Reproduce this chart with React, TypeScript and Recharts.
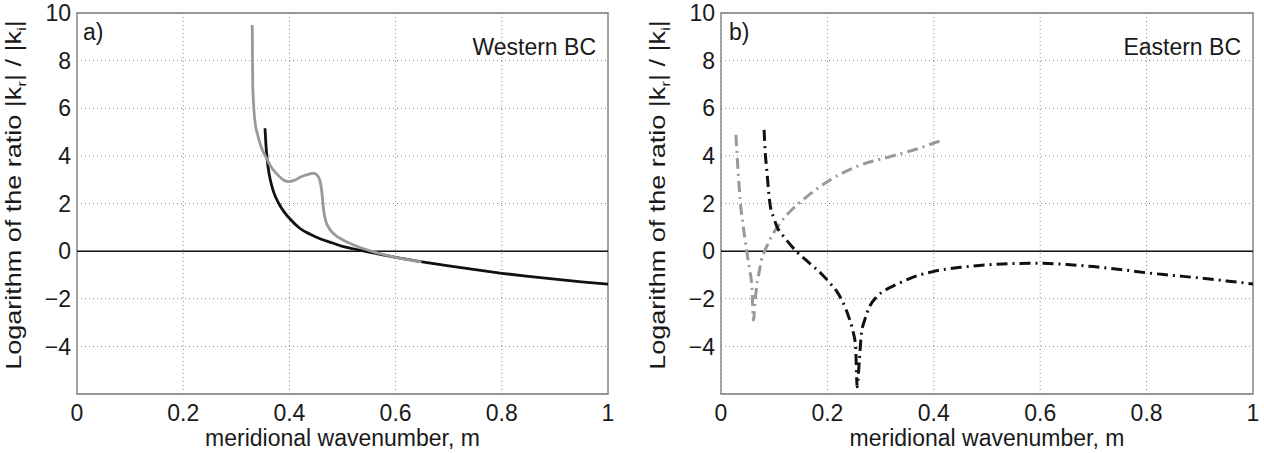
import React from 'react';
import {
  LineChart,
  Line,
  XAxis,
  YAxis,
  CartesianGrid,
  ReferenceLine,
  ReferenceArea,
  Label,
} from 'recharts';

// axis ticks
const xTicks = [0, 0.2, 0.4, 0.6, 0.8, 1];
const yTicks = [-4, -2, 0, 2, 4, 6, 8, 10];

// panel a) Western BC
const westGrayX = [0.330, 0.3305, 0.331, 0.333, 0.336, 0.34, 0.345, 0.35, 0.357, 0.365, 0.376, 0.388, 0.398, 0.41, 0.42, 0.435, 0.445, 0.452, 0.457, 0.461, 0.464, 0.468, 0.475, 0.485, 0.5, 0.52, 0.54, 0.56, 0.6, 0.649];
const westGrayY = [9.5, 8.0, 7.0, 6.0, 5.3, 4.9, 4.5, 4.2, 3.9, 3.55, 3.25, 3.0, 2.92, 2.98, 3.1, 3.22, 3.27, 3.2, 3.0, 2.5, 1.8, 1.3, 0.95, 0.7, 0.48, 0.27, 0.1, -0.04, -0.26, -0.45];
const westBlackX = [0.354, 0.356, 0.36, 0.365, 0.37, 0.38, 0.39, 0.4, 0.42, 0.44, 0.46, 0.48, 0.5, 0.52, 0.55, 0.6, 0.65, 0.7, 0.75, 0.8, 0.85, 0.9, 0.95, 1.0];
const westBlackY = [5.16, 4.4, 3.5, 2.9, 2.5, 2.0, 1.65, 1.38, 0.95, 0.7, 0.5, 0.35, 0.2, 0.1, -0.04, -0.26, -0.45, -0.62, -0.78, -0.93, -1.06, -1.18, -1.29, -1.39];

// panel b) Eastern BC
const eastGrayX = [0.028, 0.032, 0.036, 0.042, 0.048, 0.054, 0.058, 0.061, 0.064, 0.067, 0.072, 0.076, 0.083, 0.095, 0.111, 0.136, 0.161, 0.205, 0.255, 0.318, 0.37, 0.399, 0.418];
const eastGrayY = [4.88, 3.4, 2.15, 1.0, 0.05, -0.8, -1.49, -2.89, -2.1, -1.49, -0.85, -0.37, 0.05, 0.61, 1.17, 1.8, 2.28, 2.99, 3.55, 3.97, 4.3, 4.53, 4.67];
const eastBlackX = [0.081, 0.083, 0.086, 0.092, 0.1, 0.105, 0.115, 0.123, 0.142, 0.16, 0.174, 0.19, 0.205, 0.218, 0.227, 0.235, 0.242, 0.249, 0.253, 0.256, 0.26, 0.264, 0.27, 0.28, 0.293, 0.31, 0.33, 0.36, 0.4, 0.45, 0.5, 0.55, 0.6, 0.65, 0.7, 0.75, 0.8, 0.85, 0.9, 0.95, 1.0];
const eastBlackY = [5.09, 4.2, 3.41, 2.0, 1.35, 1.03, 0.7, 0.47, -0.02, -0.38, -0.65, -0.98, -1.35, -1.7, -2.05, -2.45, -2.89, -3.45, -4.0, -5.7, -4.6, -3.45, -2.9, -2.3, -1.91, -1.62, -1.4, -1.1, -0.85, -0.68, -0.58, -0.52, -0.51, -0.56, -0.65, -0.77, -0.91, -1.02, -1.13, -1.25, -1.38];

const pairs = (xs: number[], ys: number[]) => xs.map((x, i) => ({ x, y: ys[i] }));

const font = '"Liberation Sans", Arial, Helvetica, sans-serif';
const ink = '#1a1a1a';
const gray = '#999999';
const black = '#111111';
const dashDot = '11 5 2 5';

const YTitle = ({ viewBox }: any) => {
  const cx = viewBox.x + viewBox.width - 56;
  const cy = 195;
  return (
    <text
      x={0}
      y={0}
      transform={`translate(${cx} ${cy}) scale(0.8 1) rotate(-90)`}
      textAnchor="middle"
      fontSize={27}
      fill={ink}
      fontFamily={font}
    >
      Logarithm of the ratio |k
      <tspan fontSize={17} dy={6}>r</tspan>
      <tspan dy={-6}>| / |k</tspan>
      <tspan fontSize={17} dy={6}>i</tspan>
      <tspan dy={-6}>|</tspan>
    </text>
  );
};

const XTitle = ({ viewBox }: any) => (
  <text
    x={viewBox.x + viewBox.width / 2}
    y={viewBox.y + 52}
    textAnchor="middle"
    fontSize={23}
    fill={ink}
    fontFamily={font}
  >
    meridional wavenumber, m
  </text>
);

const note = (text: string, side: 'left' | 'right', dx: number, dy: number) => ({ viewBox }: any) => (
  <text
    x={side === 'left' ? viewBox.x + dx : viewBox.x + viewBox.width - dx}
    y={viewBox.y + dy}
    textAnchor={side === 'left' ? 'start' : 'end'}
    fontSize={23}
    fill={ink}
    fontFamily={font}
  >
    {text}
  </text>
);

const fmtY = (v: number) => String(v).replace('-', '\u2212');

interface Series {
  data: { x: number; y: number }[];
  color: string;
  dash?: string;
  width: number;
}

interface PanelProps {
  width: number;
  marginRight: number;
  tag: string;
  title: string;
  tagDx: number;
  titleDx: number;
  series: Series[];
}

const Panel: React.FC<PanelProps> = ({ width, marginRight, tag, title, tagDx, titleDx, series }) => (
  <LineChart width={width} height={453} margin={{ top: 13, right: marginRight, bottom: 0, left: 0 }}>
    <CartesianGrid stroke="#8a8a8a" strokeDasharray="1 3" strokeWidth={1} />
    <XAxis
      type="number"
      dataKey="x"
      domain={[0, 1]}
      ticks={xTicks}
      allowDataOverflow
      axisLine={false}
      tickLine={false}
      tickSize={0}
      tickMargin={11}
      height={59}
      tick={{ fontSize: 23, fill: ink, fontFamily: font }}
      label={{ content: XTitle }}
    />
    <YAxis
      type="number"
      dataKey="y"
      domain={[-6, 10]}
      ticks={yTicks}
      allowDataOverflow
      axisLine={false}
      tickLine={false}
      tickSize={0}
      tickMargin={6}
      width={77}
      tickFormatter={fmtY}
      tick={{ fontSize: 23, fill: ink, fontFamily: font }}
      label={{ content: YTitle }}
    />
    <ReferenceArea x1={0} x2={1} y1={-6} y2={10} fill="none" stroke="#7a7a7a" strokeWidth={1.3}>
      <Label content={note(tag, 'left', tagDx, 27)} />
      <Label content={note(title, 'right', titleDx, 42)} />
    </ReferenceArea>
    <ReferenceLine y={0} stroke="#111" strokeWidth={1.5} />
    {series.map((s, i) => (
      <Line
        key={i}
        data={s.data}
        dataKey="y"
        type="monotone"
        stroke={s.color}
        strokeWidth={s.width}
        strokeDasharray={s.dash}
        dot={false}
        activeDot={false}
        isAnimationActive={false}
      />
    ))}
  </LineChart>
);

const App: React.FC = () => (
  <div style={{ position: 'absolute', left: 0, top: 0, width: 1264, height: 453, background: '#fff' }}>
    <div style={{ position: 'absolute', left: 0, top: 0 }}>
      <Panel
        width={632}
        marginRight={24}
        tag="a)"
        title="Western BC"
        tagDx={6}
        titleDx={12}
        series={[
          { data: pairs(westBlackX, westBlackY), color: black, width: 2.8 },
          { data: pairs(westGrayX, westGrayY), color: gray, width: 2.8 },
        ]}
      />
    </div>
    <div style={{ position: 'absolute', left: 644, top: 0 }}>
      <Panel
        width={620}
        marginRight={11}
        tag="b)"
        title="Eastern BC"
        tagDx={8}
        titleDx={12}
        series={[
          { data: pairs(eastGrayX, eastGrayY), color: gray, width: 3, dash: dashDot },
          { data: pairs(eastBlackX, eastBlackY), color: black, width: 3, dash: dashDot },
        ]}
      />
    </div>
  </div>
);

export default App;
